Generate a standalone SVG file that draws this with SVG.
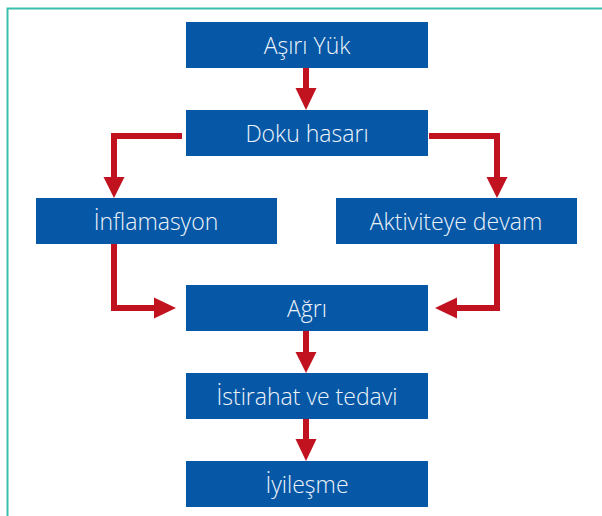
<svg xmlns="http://www.w3.org/2000/svg" width="602" height="516" viewBox="0 0 602 516">
<style>
.box{fill:#0658a6}
.lbl{font-family:"Open Sans","Liberation Sans",sans-serif;font-size:23px;font-weight:300;fill:#eef3fa;text-anchor:middle}
.ln{fill:none;stroke:#c1121f;stroke-width:6}
.hd{fill:#c1121f}
</style>
<rect x="0" y="0" width="602" height="516" fill="#ffffff"/>
<path d="M7.5 516 V8.5 H602" fill="none" stroke="#3dbfae" stroke-width="2"/>
<g id="connectors">
<line class="ln" x1="306" y1="68" x2="306" y2="89"/>
<polygon class="hd" points="295.5,88 316.5,88 306,110"/>
<path class="ln" d="M182 136 H114 V178"/>
<polygon class="hd" points="103.5,177 124.5,177 114,198"/>
<path class="ln" d="M429 136 H497 V178"/>
<polygon class="hd" points="486.5,177 507.5,177 497,198"/>
<path class="ln" d="M114 244 V308 H155"/>
<polygon class="hd" points="154,297.5 154,318.5 176,308"/>
<path class="ln" d="M497 244 V308 H456"/>
<polygon class="hd" points="457,297.5 457,318.5 435,308"/>
<line class="ln" x1="306" y1="331" x2="306" y2="353"/>
<polygon class="hd" points="295.5,352 316.5,352 306,373"/>
<line class="ln" x1="306" y1="419" x2="306" y2="440"/>
<polygon class="hd" points="295.5,439 316.5,439 306,461"/>
</g>
<g id="n1"><rect class="box" x="186" y="22" width="242" height="46"/><text class="lbl" x="307" y="54">Aşırı Yük</text></g>
<g id="n2"><rect class="box" x="186" y="110" width="242" height="46"/><text class="lbl" x="307" y="142">Doku hasarı</text></g>
<g id="n3"><rect class="box" x="36" y="198" width="241" height="46"/><text class="lbl" x="156" y="230">İnflamasyon</text></g>
<g id="n4"><rect class="box" x="336" y="198" width="241" height="46"/><text class="lbl" x="456" y="230">Aktiviteye devam</text></g>
<g id="n5"><rect class="box" x="186" y="285" width="242" height="46"/><text class="lbl" x="307" y="317">Ağrı</text></g>
<g id="n6"><rect class="box" x="186" y="373" width="242" height="46"/><text class="lbl" x="307" y="405">İstirahat ve tedavi</text></g>
<g id="n7"><rect class="box" x="186" y="461" width="242" height="46"/><text class="lbl" x="307" y="493">İyileşme</text></g>
</svg>
